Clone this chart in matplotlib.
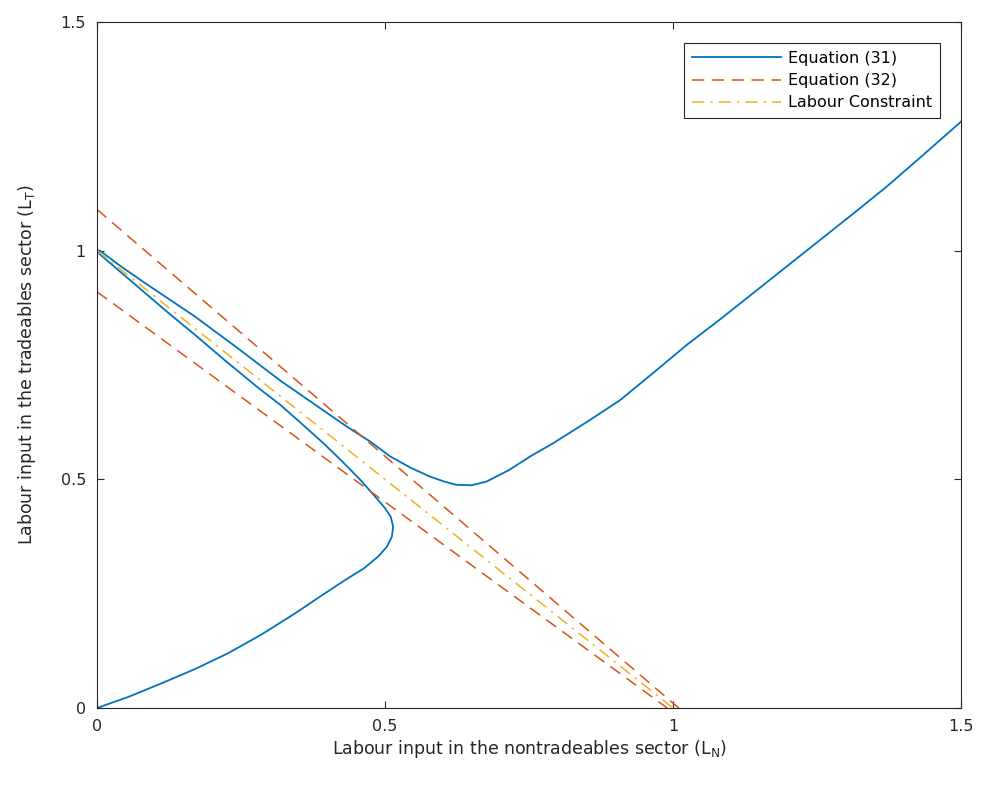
import matplotlib
matplotlib.use("Agg")
import matplotlib.pyplot as plt

# Equation (31), traced from origin, around the nose,
# up to (0,1) and then along the upper branch
eq31_x = [0.0, 0.056, 0.112, 0.170, 0.228, 0.286, 0.344, 0.390, 0.431, 0.463, 0.488,
          0.503, 0.512, 0.514, 0.510, 0.500, 0.483, 0.457, 0.425,
          0.393, 0.355, 0.318, 0.280, 0.225, 0.170, 0.120, 0.070, 0.030, 0.005,
          0.0, 0.005, 0.040, 0.080, 0.125, 0.170, 0.245, 0.318, 0.380, 0.434,
          0.475, 0.509, 0.545, 0.578, 0.603, 0.624, 0.650, 0.676, 0.715, 0.752,
          0.792, 0.850, 0.908, 0.966, 1.024, 1.082, 1.139, 1.197, 1.255, 1.313,
          1.371, 1.435, 1.5]
eq31_y = [0.0, 0.025, 0.054, 0.085, 0.120, 0.161, 0.207, 0.246, 0.280, 0.305, 0.331,
          0.352, 0.375, 0.397, 0.418, 0.437, 0.462, 0.499, 0.540,
          0.579, 0.622, 0.663, 0.700, 0.757, 0.816, 0.868, 0.922, 0.965, 0.992,
          1.0, 1.0, 0.967, 0.932, 0.894, 0.856, 0.786, 0.716, 0.662, 0.615,
          0.582, 0.550, 0.525, 0.506, 0.495, 0.488, 0.487, 0.495, 0.520, 0.550,
          0.579, 0.625, 0.673, 0.733, 0.794, 0.850, 0.907, 0.965, 1.023, 1.081,
          1.140, 1.210, 1.282]

# Equation (32): two straight dashed lines
eq32_upper_x = [0.0, 1.01]
eq32_upper_y = [1.09, 0.0]
eq32_lower_x = [0.0, 0.99]
eq32_lower_y = [0.91, 0.0]

# Labour constraint LN + LT = 1
lc_x = [0.0, 1.0]
lc_y = [1.0, 0.0]

ticks = [0, 0.5, 1, 1.5]
tick_labels = ["0", "0.5", "1", "1.5"]

plt.rcParams['font.family'] = ['DejaVu Sans']
plt.rcParams['mathtext.default'] = 'regular'

fig = plt.figure(figsize=(9.81, 7.85), dpi=100)
ax = fig.add_axes([0.0989, 0.0981, 0.8807, 0.8739])

blue = '#0072BD'
orange = '#D95319'
yellow = '#EDB120'

ax.plot(eq31_x, eq31_y, color=blue, lw=1.3, label='Equation (31)')
ax.plot(eq32_upper_x, eq32_upper_y, color=orange, lw=1.1, ls=(0, (8, 5)), label='Equation (32)')
ax.plot(eq32_lower_x, eq32_lower_y, color=orange, lw=1.1, ls=(0, (8, 5)))
ax.plot(lc_x, lc_y, color=yellow, lw=1.1, ls=(0, (8, 4, 1.5, 4)), label='Labour Constraint')

ax.set_xlim(0, 1.5)
ax.set_ylim(0, 1.5)
ax.set_xticks(ticks)
ax.set_xticklabels(tick_labels)
ax.set_yticks(ticks)
ax.set_yticklabels(tick_labels)
ax.tick_params(direction='in', top=True, right=True, length=5, width=0.8,
               labelsize=11.5, colors='#262626', pad=8)
for s in ax.spines.values():
    s.set_linewidth(0.8)
    s.set_color('#262626')

ax.set_xlabel('Labour input in the nontradeables sector (L$_{N}$)', fontsize=12.5,
              color='#262626', labelpad=3)
ax.set_ylabel('Labour input in the tradeables sector (L$_{T}$)', fontsize=12.5,
              color='#262626', labelpad=16)

leg = ax.legend(loc='upper right', bbox_to_anchor=(0.9757, 0.9694), fontsize=11.5,
                handlelength=5.6, handletextpad=0.4, borderpad=0.5, labelspacing=0.45,
                fancybox=False, framealpha=1, edgecolor='#262626', borderaxespad=0.0)
leg.get_frame().set_linewidth(0.8)

fig.savefig('out.png', dpi=100, facecolor='white')
